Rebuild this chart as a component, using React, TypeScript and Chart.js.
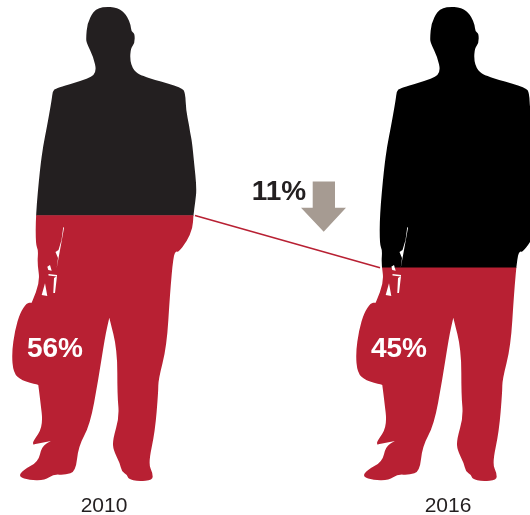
import React, { useEffect, useRef } from "react";
import { Chart, registerables } from "chart.js";

Chart.register(...registerables);

const years = ["2010", "2016"];
const lowerShare = [56, 45];
const upperShare = [44, 55];
const upperColors = ["#231f20", "#000000"];
const RED = "#b82033";
const ARROW = "#a69b92";
const FONT = '"Liberation Sans", Arial, sans-serif';

// Silhouette artwork traced from the picture: [x, y] with x measured from the man's centre line,
// y measured from the top of the scale; design height 475.
const CX = 104;
const TOP = 6.5;
const outlineRaw: number[][] = [
  [106.7, 6.7], [114, 7.3], [120, 9.3], [124, 12.7], [127.3, 16.7], [130.7, 25], [131.3, 31.7], [134.7, 33.3], [134.7, 43.3], [130.7, 48.3], [130, 60], [132.7, 68.3], [136, 72], [140, 75], [153.3, 79.3],
  [182, 87.5], [185.3, 93], [186, 110], [189.3, 126.7], [190, 131.7], [192, 141.7], [194, 161.7], [196.7, 188.3], [195.3, 201.7], [193.3, 215.7], [192.7, 228.3], [186.7, 241.7], [178.3, 252.3], [176, 251], [173.3, 256.7],
  [170, 293.3], [166.7, 346.7], [158.3, 380], [158.3, 391.7], [155, 431.7], [148.3, 463.3], [152.7, 473.3], [152.7, 480], [138.3, 481.5], [128.3, 479], [127.3, 475], [121.7, 471.7], [120, 463.3], [113.3, 450], [112.7, 440], [119.3, 416.7], [117.3, 395], [117.3, 350],
  [109.3, 317.7], [109.3, 317.7], [109.3, 317.7], [105, 336.7], [98.3, 380], [90, 425], [78.3, 446.7], [75.7, 471.7], [65, 475], [53.3, 474.3], [45, 480], [30, 480.3], [18.3, 476.7], [23.3, 470], [38.3, 461.7], [41.7, 446.7], [50.7, 441], [50.7, 441], [33.3, 444.5], [33.3, 444.5], [32.7, 441.7], [43.3, 426.7], [40, 398.3], [38.3, 385], [38.3, 385], [21.7, 380.7], [13.3, 373],
  [11.7, 353], [15, 330], [20, 313], [26.7, 303], [31.7, 302.7], [31.7, 302.7], [40, 281.7], [37.3, 263.3], [38.3, 250], [35.7, 245], [35.7, 215.7], [40, 168.3], [43.3, 145], [46.7, 128], [51.7, 100], [52.7, 91], [56, 88], [90, 78.3], [96.7, 71.7], [93.3, 56.7], [86.7, 43.3], [86, 38.3], [87.3, 23.3], [93.3, 11.7], [99, 8],
];
const holesRaw: number[][][] = [
  [[63.3, 226.7], [61.5, 240], [58.5, 250], [55.5, 252], [58, 258], [56.7, 268], [60, 250], [64, 228]],
  [[41.7, 295], [45, 283.3], [47.3, 296]],
  [[53.3, 293], [54, 278], [57, 276], [55, 293]],
  [[47.3, 266.7], [50, 265], [51.7, 270.7], [48.3, 270]],
  [[48.5, 274], [57, 275], [57, 276.5], [48.5, 275.5]],
];

const manPath = (cx: number, bottom: number, k: number, path: Path2D) => {
  const map = ([x, y]: number[]) => [cx + (x - CX) * k, bottom - 475 * k + (y - TOP) * k];
  // outline: lightly rounded through segment midpoints
  const pts = outlineRaw.map(map);
  const n = pts.length;
  const mid = (a: number[], b: number[]) => [(a[0] + b[0]) / 2, (a[1] + b[1]) / 2];
  const start = mid(pts[n - 1], pts[0]);
  path.moveTo(start[0], start[1]);
  pts.forEach((p, i) => {
    const m = mid(p, pts[(i + 1) % n]);
    path.quadraticCurveTo(p[0], p[1], m[0], m[1]);
  });
  path.closePath();
  for (const poly of holesRaw) {
    poly.map(map).forEach(([px, py], i) => {
      if (i === 0) path.moveTo(px, py);
      else path.lineTo(px, py);
    });
    path.closePath();
  }
};

const silhouette = {
  id: "silhouette",
  beforeDatasetsDraw(chart: any) {
    const { ctx, scales } = chart;
    const bottom = scales.y.getPixelForValue(0);
    const k = (bottom - scales.y.getPixelForValue(100)) / 475;
    const path = new Path2D();
    years.forEach((_, i) => manPath(scales.x.getPixelForValue(i), bottom, k, path));
    ctx.save();
    ctx.clip(path, "evenodd");
  },
  afterDatasetsDraw(chart: any) {
    chart.ctx.restore();
  },
  afterDraw(chart: any) {
    const { ctx, scales } = chart;
    const x0 = scales.x.getPixelForValue(0);
    const x1 = scales.x.getPixelForValue(1);
    // connector between the two levels
    ctx.save();
    ctx.strokeStyle = RED;
    ctx.lineWidth = 1.5;
    ctx.beginPath();
    ctx.moveTo(x0 + 91, scales.y.getPixelForValue(lowerShare[0]));
    ctx.lineTo(x1 - 68, scales.y.getPixelForValue(lowerShare[1]));
    ctx.stroke();
    // share labels
    ctx.font = `bold 28px ${FONT}`;
    ctx.textBaseline = "alphabetic";
    ctx.textAlign = "center";
    ctx.fillStyle = "#ffffff";
    years.forEach((_, i) => {
      ctx.fillText(`${lowerShare[i]}%`, scales.x.getPixelForValue(i) - 49, 357);
    });
    // change label with arrow
    ctx.fillStyle = "#231f20";
    ctx.fillText(`${lowerShare[0] - lowerShare[1]}%`, 279, 200);
    ctx.fillStyle = ARROW;
    ctx.beginPath();
    ctx.moveTo(312.7, 181.5);
    ctx.lineTo(335, 181.5);
    ctx.lineTo(335, 207.7);
    ctx.lineTo(346, 207.7);
    ctx.lineTo(323.7, 231.7);
    ctx.lineTo(301, 207.7);
    ctx.lineTo(312.7, 207.7);
    ctx.closePath();
    ctx.fill();
    ctx.restore();
  },
};

export default function App() {
  const ref = useRef<HTMLCanvasElement>(null);
  useEffect(() => {
    const chart = new Chart(ref.current!, {
      type: "bar",
      data: {
        labels: years,
        datasets: [
          { data: lowerShare, backgroundColor: RED, barThickness: 210, stack: "s", clip: false as any },
          { data: upperShare, backgroundColor: upperColors, barThickness: 210, stack: "s", clip: false as any },
        ],
      },
      options: {
        animation: false,
        responsive: false,
        devicePixelRatio: 1,
        layout: { padding: { left: 104, right: 82, top: 6.5, bottom: 0 } },
        plugins: { legend: { display: false }, tooltip: { enabled: false } },
        scales: {
          x: {
            stacked: true,
            offset: false,
            grid: { display: false },
            border: { display: false },
            ticks: { color: "#231f20", font: { family: FONT, size: 21 }, padding: 4, maxRotation: 0, autoSkip: false },
            afterFit: (s: any) => { s.height = 33.5; },
          },
          y: { stacked: true, display: false, min: 0, max: 100 },
        },
      },
      plugins: [silhouette],
    });
    return () => chart.destroy();
  }, []);
  return (
    <div style={{ position: "fixed", left: 0, top: 0 }}>
      <canvas ref={ref} width={530} height={515} style={{ display: "block" }} />
    </div>
  );
}
